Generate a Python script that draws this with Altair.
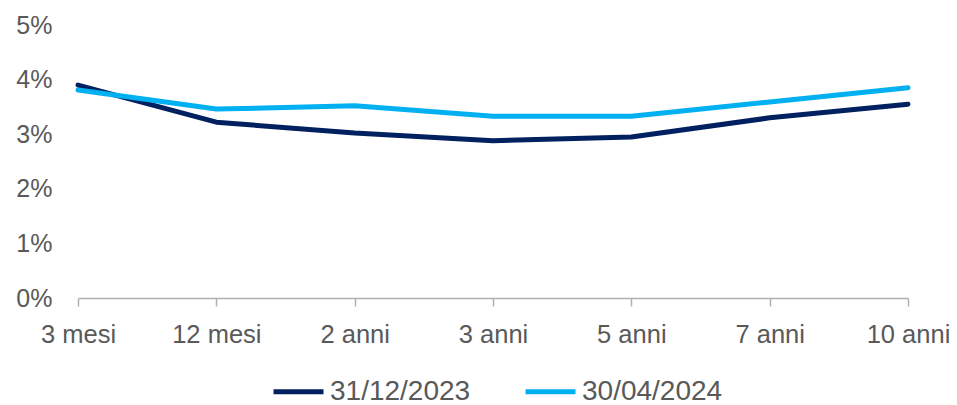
import altair as alt
import pandas as pd

tenors = ["3 mesi", "12 mesi", "2 anni", "3 anni", "5 anni", "7 anni", "10 anni"]
series_names = ["31/12/2023", "30/04/2024"]
dec_2023 = [3.90, 3.22, 3.02, 2.88, 2.95, 3.30, 3.55]
apr_2024 = [3.81, 3.46, 3.52, 3.33, 3.33, 3.59, 3.85]
y_ticks = [0, 1, 2, 3, 4, 5]
colors = ["#002060", "#00B0F0"]

rows = []
for name, vals in zip(series_names, [dec_2023, apr_2024]):
    for i, (t, v) in enumerate(zip(tenors, vals)):
        rows.append({"tenor": t, "rate": v, "serie": name, "ord": i})
df = pd.DataFrame(rows)

FONT = "Liberation Sans"
GREY = "#595959"

chart = (
    alt.Chart(df)
    .mark_line(strokeWidth=5, strokeCap="round", strokeJoin="round")
    .encode(
        x=alt.X(
            "tenor:N",
            sort=tenors,
            scale=alt.Scale(type="point", padding=0),
            axis=alt.Axis(
                title=None,
                labelAngle=0,
                labelFont=FONT,
                labelFontSize=25.5,
                labelColor=GREY,
                labelPadding=16,
                tickSize=8,
                tickColor="#B0B0B0",
                tickWidth=1.5,
                domainColor="#B0B0B0",
                domainWidth=1.5,
                grid=False,
                labelOverlap=False,
            ),
        ),
        y=alt.Y(
            "rate:Q",
            scale=alt.Scale(domain=[0, 5], nice=False),
            axis=alt.Axis(
                title=None,
                values=y_ticks,
                labelExpr="datum.value + '%'",
                labelFont=FONT,
                labelFontSize=25,
                labelColor=GREY,
                labelPadding=26,
                ticks=False,
                tickSize=0,
                domain=False,
                grid=False,
            ),
        ),
        color=alt.Color(
            "serie:N",
            sort=series_names,
            scale=alt.Scale(domain=series_names, range=colors),
            legend=alt.Legend(
                title=None,
                orient="none",
                direction="horizontal",
                legendX=193,
                legendY=339,
                symbolType="stroke",
                symbolSize=2500,
                symbolStrokeWidth=5,
                labelFont=FONT,
                labelFontSize=28,
                labelColor=GREY,
                labelOffset=4,
                columnPadding=44,
                padding=0,
            ),
        ),
        order=alt.Order("ord:Q"),
        detail="serie:N",
    )
    .properties(
        width=830,
        height=273,
        autosize=alt.AutoSizeParams(type="none"),
        padding={"left": 70, "top": 17, "right": 41, "bottom": 117},
    )
    .configure_view(stroke=None)
)

chart.save("out.html", embed_options={"renderer": "svg", "actions": False})
